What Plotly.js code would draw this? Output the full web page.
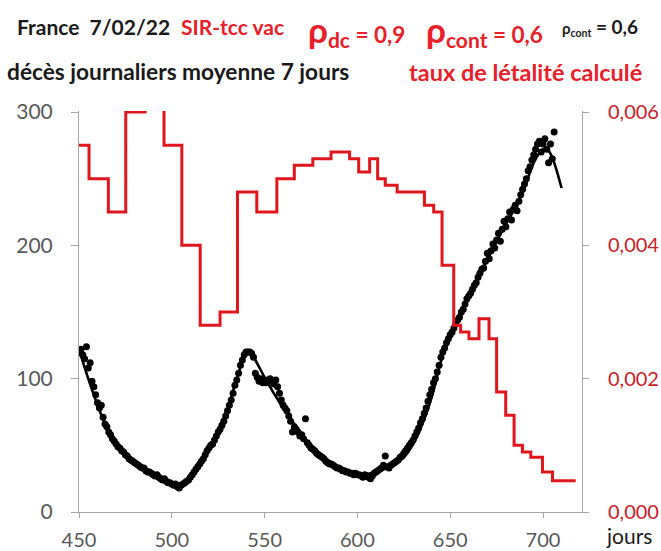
<!DOCTYPE html>
<html>
<head>
<meta charset="utf-8">
<script src="https://cdn.plot.ly/plotly-3.0.1.min.js"></script>
<style>html,body{margin:0;padding:0;background:#fff;}#chart{width:661px;height:551px;}</style>
</head>
<body>
<div id="chart"></div>
<script>
// Observed daily deaths (7-day average), one value per day starting at day 450
const obsStartDay = 450;
const obsDeaths = [
 120,122,118,115,124,108,112,98,94,88,
 82,78,80,71,66,64,60,58,55,53,
 51,49,48,46,45,43,42,40,39,38,
 37,36,35,34,33,33,31,30,30,29,
 28,27,28,26,25,24,25,23,22,22,
 21,20,21,19,18,20,21,22,23,24,
 26,28,30,32,34,36,38,40,43,46,
 48,50,51,54,57,60,62,65,68,72,
 76,80,84,89,95,99,104,110,114,118,
 120,120,120,119,116,104,101,98,100,97,
 99,97,99,100,98,96,99,94,89,84,
 80,78,76,72,68,60,64,62,60,57,
 58,55,70,52,50,48,47,46,44,43,
 42,41,40,38,37,36,36,35,34,33,
 33,32,31,31,30,30,29,29,28,29,
 28,28,27,26,28,27,26,25,27,29,
 30,31,32,33,35,42,34,33,35,36,
 37,38,39,41,42,44,46,48,50,52,
 54,57,60,63,67,70,74,78,83,88,
 92,97,100,105,110,116,120,123,127,130,
 133,135,138,141,144,146,150,152,156,160,
 162,164,167,170,172,176,179,182,183,188,
 194,190,196,201,198,204,209,203,212,218,
 214,220,225,219,227,230,226,233,238,242,
 246,250,256,259,264,268,272,276,278,270,
 276,280,272,262,276,265,285
];

// Model curve (SIR-tcc vac)
const modelDays = [450,455,460,465,470,475,480,485,490,495,500,503,505,510,515,520,525,530,535,540,542,545,550,555,560,565,570,575,580,585,590,595,600,605,610,615,620,625,630,635,640,645,650,655,660,665,670,675,680,685,690,695,700,703,706,710];
const modelDeaths = [122,100,80,63,51,43,37,32.5,28,24.5,21.5,20,20.5,25,35,47,60,77,100,119,121,114,101,89,78,68,58,50,43.5,38,34,31,29,28.5,30,32.5,36,41,51,66,86,113,133,147,162,176,189,203,216,228,243,262,272,271,262,243];

// Calculated lethality rate (step function, start day of each step)
const rateDays = [450,455.4,465.8,475.2,485.6,495.8,505.4,515.3,526,535.4,545.8,556.6,566,576,585.8,595.8,600.7,606.6,610.9,615,621.4,636.1,641.1,645.6,651.9,655.6,660.1,665.5,670.9,675,679.9,684.4,688.9,693.4,699.7,705.1,717.6];
const rateVals = [0.0055,0.0050,0.0045,0.0060,0.0075,0.0055,0.0040,0.0028,0.0030,0.0048,0.0045,0.0050,0.0052,0.0053,0.0054,0.0053,0.0051,0.0053,0.0050,0.0049,0.0048,0.0046,0.0045,0.0037,0.0028,0.0027,0.0026,0.0029,0.0026,0.0018,0.00145,0.0010,0.0009,0.00082,0.0006,0.00047,0.00047];

const xTicks = [450,500,550,600,650,700];
const yTicks = [0,100,200,300];
const y2Ticks = [0,0.002,0.004,0.006];
const y2TickText = ['0,000','0,002','0,004','0,006'];

const obsDays = obsDeaths.map((v,i)=>obsStartDay+i);

const RED = '#e0161e';
const TXTRED = '#e8202a';
const AXRED = '#c8202a';
const GRAY = '#595959';
const AXIS = '#a6a6a6';
const FONT = 'Lato, "Open Sans", sans-serif';

const traces = [
 {x: obsDays, y: obsDeaths, type:'scatter', mode:'markers', marker:{color:'#000', size:7}, hoverinfo:'skip'},
 {x: modelDays, y: modelDeaths, type:'scatter', mode:'lines', line:{color:'#000', width:2.6, shape:'spline', smoothing:0.8}, hoverinfo:'skip'},
 {x: rateDays, y: rateVals, type:'scatter', mode:'lines', yaxis:'y2', line:{color:RED, width:3, shape:'hv'}, hoverinfo:'skip'}
];

function px2x(px){ return (px-79)/503; }
function px2y(py){ return (512-py)/401; }

const ann = (text, px, py, color, size, anchor) => ({
 text, x: px2x(px), y: px2y(py), xref:'paper', yref:'paper', xanchor: anchor||'left', yanchor:'middle',
 showarrow:false, font:{family:FONT, size:size, color:color}
});

const layout = {
 width:661, height:551,
 margin:{l:79, r:79, t:111, b:39},
 paper_bgcolor:'#fff', plot_bgcolor:'#fff',
 showlegend:false,
 font:{family:FONT},
 xaxis:{range:[450,721], tickvals:xTicks, ticktext:xTicks.map(String), showgrid:false, zeroline:false,
   showline:true, linecolor:AXIS, linewidth:1, ticks:'outside', ticklen:5, tickcolor:AXIS,
   tickfont:{family:FONT, size:20, color:GRAY}, ticklabelstandoff:5},
 yaxis:{range:[0,300.75], tickvals:yTicks, ticktext:yTicks.map(String), showgrid:false, zeroline:false,
   showline:true, linecolor:AXIS, linewidth:1, ticks:'outside', ticklen:7, tickcolor:AXIS,
   tickfont:{family:FONT, size:21, color:GRAY}, ticklabelstandoff:14},
 yaxis2:{range:[0,0.006015], overlaying:'y', side:'right', tickvals:y2Ticks, ticktext:y2TickText, showgrid:false, zeroline:false,
   showline:true, linecolor:AXIS, linewidth:1, ticks:'outside', ticklen:6, tickcolor:AXIS,
   tickfont:{family:FONT, size:20, color:AXRED}, ticklabelstandoff:15},
 annotations:[
   ann('<b>France  7/02/22</b>', 15, 27, '#1a1a1a', 21),
   ann('<b>SIR-tcc vac</b>', 179, 27, TXTRED, 21),
   ann('<b><span style="font-size:35px">ρ</span><sub><span style="font-size:21px">dc</span></sub> = 0,9</b>', 306, 30, TXTRED, 22.5),
   ann('<b><span style="font-size:35px">ρ</span><sub><span style="font-size:21px">cont</span></sub> = 0,6</b>', 424, 30, TXTRED, 22.5),
   ann('<b><span style="font-size:15px">ρ<sub>cont</sub></span> = 0,6</b>', 560, 27, '#1a1a1a', 19),
   ann('<b>décès journaliers moyenne 7 jours</b>', 5, 72, '#1a1a1a', 22.7),
   ann('<b>taux de létalité calculé</b>', 407, 72, TXTRED, 23.5),
   ann('jours', 604, 535, '#1a1a1a', 21)
 ]
};

Plotly.newPlot('chart', traces, layout, {staticPlot:true, displayModeBar:false});
</script>
</body>
</html>
